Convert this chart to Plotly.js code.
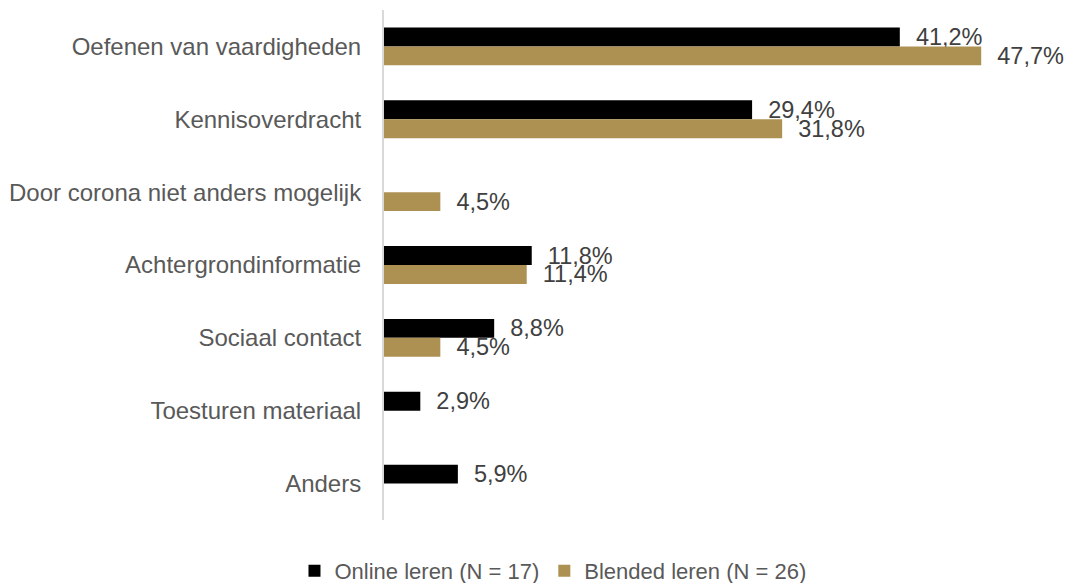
<!DOCTYPE html>
<html>
<head>
<meta charset="utf-8">
<script src="https://cdn.plot.ly/plotly-3.0.1.min.js"></script>
<style>html,body{margin:0;padding:0;background:#fff;}#chart{width:1068px;height:583px;}</style>
</head>
<body>
<div id="chart"></div>
<script>
const categories = [
  "Oefenen van vaardigheden",
  "Kennisoverdracht",
  "Door corona niet anders mogelijk",
  "Achtergrondinformatie",
  "Sociaal contact",
  "Toesturen materiaal",
  "Anders"
];
const onlineValues = [41.2, 29.4, null, 11.8, 8.8, 2.9, 5.9];
const blendedValues = [47.7, 31.8, 4.5, 11.4, 4.5, null, null];
const seriesNames = ["Online leren (N = 17)", "Blended leren (N = 26)"];

function fmt(v) {
  return v === null ? "" : "\u00a0\u00a0" + v.toFixed(1).replace(".", ",") + "%";
}

const labelFont = {family: "Liberation Sans, Arial, sans-serif", size: 23.5, color: "#404040"};

const traces = [
  {
    type: "bar", orientation: "h", name: seriesNames[0],
    y: categories, x: onlineValues,
    text: onlineValues.map(fmt), textposition: "outside", cliponaxis: false,
    constraintext: "none", textfont: labelFont,
    marker: {color: "#000000"}, hoverinfo: "skip"
  },
  {
    type: "bar", orientation: "h", name: seriesNames[1],
    y: categories, x: blendedValues,
    text: blendedValues.map(fmt), textposition: "outside", cliponaxis: false,
    constraintext: "none", textfont: labelFont,
    marker: {color: "#AD9152"}, hoverinfo: "skip"
  }
];

const layout = {
  width: 1068, height: 583,
  margin: {l: 384, r: 58, t: 10, b: 63, autoexpand: false},
  paper_bgcolor: "#ffffff", plot_bgcolor: "#ffffff",
  barmode: "group", bargap: 0.48, bargroupgap: 0,
  showlegend: true,
  font: {family: "Liberation Sans, Arial, sans-serif", color: "#595959"},
  xaxis: {range: [0, 50], visible: false, fixedrange: true},
  yaxis: {
    autorange: "reversed", type: "category",
    showline: true, linecolor: "#d9d9d9", linewidth: 2,
    ticks: "", ticklabelstandoff: 16, showgrid: false, zeroline: false,
    tickfont: {family: "Liberation Sans, Arial, sans-serif", size: 24, color: "#595959"}
  },
  legend: {
    orientation: "h", x: -0.143, xanchor: "left", y: -0.1, yanchor: "middle",
    font: {family: "Liberation Sans, Arial, sans-serif", size: 22, color: "#595959"},
    itemwidth: 30, traceorder: "normal"
  }
};

Plotly.newPlot("chart", traces, layout, {displayModeBar: false, staticPlot: true});
</script>
</body>
</html>
